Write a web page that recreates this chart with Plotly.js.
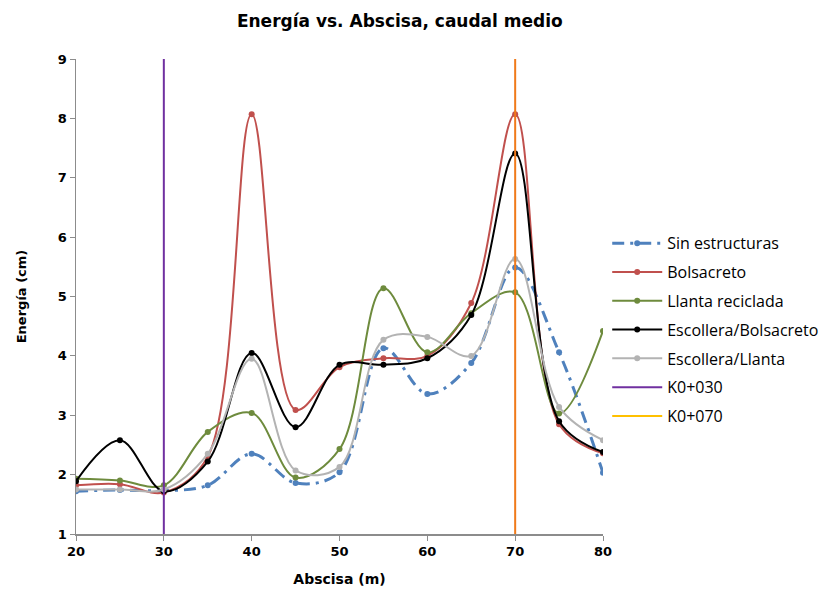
<!DOCTYPE html>
<html>
<head>
<meta charset="utf-8">
<script src="https://cdn.plot.ly/plotly-3.0.1.min.js"></script>
<style>html,body{margin:0;padding:0;background:#fff;}#chart{width:833px;height:597px;}</style>
</head>
<body>
<div id="chart"></div>
<script>
const abscisa = [20, 25, 30, 35, 40, 45, 50, 55, 60, 65, 70, 75, 80];
const sinEstructuras = [1.72, 1.74, 1.73, 1.82, 2.35, 1.86, 2.04, 4.13, 3.36, 3.88, 5.49, 4.06, 2.03];
const bolsacreto = [1.82, 1.84, 1.70, 2.30, 8.07, 3.09, 3.81, 3.96, 4.00, 4.89, 8.07, 2.85, 2.36];
const llantaReciclada = [1.93, 1.90, 1.82, 2.72, 3.04, 1.95, 2.43, 5.14, 4.06, 4.72, 5.07, 3.03, 4.42];
const escolleraBolsacreto = [1.89, 2.58, 1.72, 2.22, 4.05, 2.80, 3.85, 3.85, 3.96, 4.69, 7.41, 2.90, 2.38];
const escolleraLlanta = [1.75, 1.75, 1.75, 2.35, 3.95, 2.07, 2.13, 4.27, 4.32, 4.00, 5.63, 3.14, 2.58];
const k030x = [30, 30];
const k070x = [70, 70];
const verticalY = [1, 9];
const seriesNames = ["Sin estructuras", "Bolsacreto", "Llanta reciclada", "Escollera/Bolsacreto", "Escollera/Llanta", "K0+030", "K0+070"];
const xTicks = [20, 30, 40, 50, 60, 70, 80];
const yTicks = [1, 2, 3, 4, 5, 6, 7, 8, 9];

function smooth(y, name, color, width, dash, grp) {
  return {
    x: abscisa, y: y, name: name, type: 'scatter', mode: 'lines+markers', legendgroup: grp,
    line: {color: color, width: width, shape: 'spline', smoothing: 1, dash: dash || 'solid'},
    marker: {color: color, size: 6, symbol: 'circle'}
  };
}

const traces = [
  smooth(sinEstructuras, seriesNames[0], '#4F81BD', 3, '12px,6px,3px,6px', 'g0'),
  smooth(bolsacreto, seriesNames[1], '#C0504D', 2, null, 'g1'),
  smooth(llantaReciclada, seriesNames[2], '#6E8B3D', 2, null, 'g2'),
  smooth(escolleraBolsacreto, seriesNames[3], '#000000', 2, null, 'g3'),
  smooth(escolleraLlanta, seriesNames[4], '#B3B3B3', 2, null, 'g4'),
  {x: k030x, y: verticalY, name: seriesNames[5], type: 'scatter', mode: 'lines', legendgroup: 'g5',
   line: {color: '#7030A0', width: 2}},
  {x: k070x, y: verticalY, name: seriesNames[6], type: 'scatter', mode: 'lines', legendgroup: 'g7',
   line: {color: '#F07A1A', width: 2}, showlegend: false},
  {x: [null], y: [null], name: seriesNames[6], type: 'scatter', mode: 'lines', legendgroup: 'g6',
   line: {color: '#FFC000', width: 2}}
];

const layout = {
  width: 833, height: 597,
  margin: {l: 76, r: 230, t: 59, b: 63, autoexpand: false},
  paper_bgcolor: '#ffffff', plot_bgcolor: '#ffffff',
  title: {text: '<b>Energía vs. Abscisa, caudal medio</b>', x: 0.48, xanchor: 'center', y: 0.975, yanchor: 'top',
          font: {family: 'DejaVu Sans', size: 17, color: '#000'}},
  showlegend: true,
  legend: {x: 1.008, xanchor: 'left', y: 0.43, yanchor: 'middle',
           font: {family: 'Open Sans', size: 16, color: '#000'},
           tracegroupgap: 5, itemwidth: 50, bgcolor: 'rgba(0,0,0,0)'},
  xaxis: {range: [20, 80], tickvals: xTicks, ticktext: xTicks.map(String),
          showgrid: false, zeroline: false, showline: true, linecolor: '#8C8C8C', linewidth: 1.5,
          ticks: 'outside', ticklen: 5, tickcolor: '#8C8C8C',
          tickfont: {family: 'DejaVu Sans', size: 13, color: '#000', weight: 'bold'},
          title: {text: '<b>Abscisa (m)</b>', font: {family: 'DejaVu Sans', size: 14, color: '#000'}, standoff: 16}},
  yaxis: {range: [1, 9], tickvals: yTicks, ticktext: yTicks.map(String),
          showgrid: false, zeroline: false, showline: true, linecolor: '#8C8C8C', linewidth: 1.5,
          ticks: 'outside', ticklen: 5, tickcolor: '#8C8C8C',
          tickfont: {family: 'DejaVu Sans', size: 13, color: '#000', weight: 'bold'},
          title: {text: '<b>Energía (cm)</b>', font: {family: 'DejaVu Sans', size: 13, color: '#000'}, standoff: 28}}
};

Plotly.newPlot('chart', traces, layout, {displayModeBar: false, staticPlot: true});
</script>
</body>
</html>
